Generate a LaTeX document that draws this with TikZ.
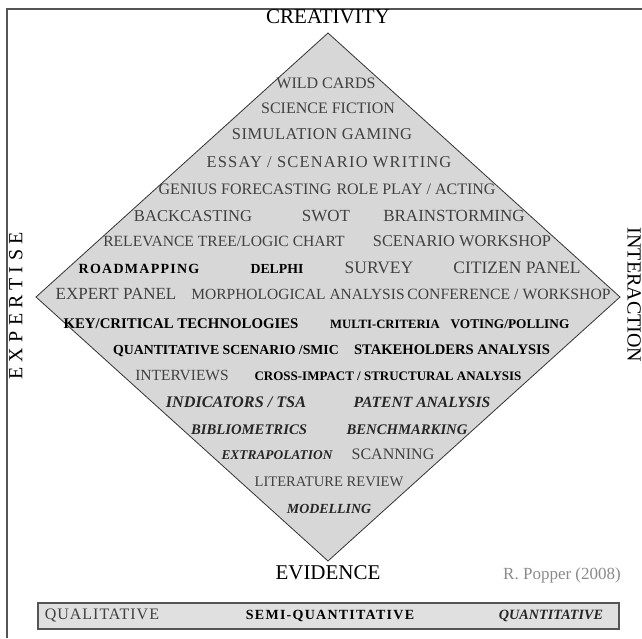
\documentclass[tikz,border=0pt]{standalone}
\usepackage{fontspec}
\setmainfont{Liberation Serif}
\definecolor{fillgray}{HTML}{D7D7D7}
\definecolor{barfill}{HTML}{E0E0E0}
\definecolor{softgray}{HTML}{404040}
\definecolor{linegray}{HTML}{555555}
\definecolor{citegray}{HTML}{8A8A8A}
\begin{document}
\begin{tikzpicture}[x=1pt,y=-1pt,
    every node/.style={inner sep=0pt,text height=0.66em,text depth=0pt},
    soft/.style={text=softgray,font=\fontsize{16}{18}\selectfont},
    roomy/.style={text=softgray,font=\fontsize{16.5}{18}\selectfont\addfontfeature{LetterSpace=7}},
    strong/.style={text=black,font=\fontsize{13.8}{16}\selectfont\bfseries},
    tracked/.style={text=black,font=\fontsize{14}{16}\selectfont\bfseries\addfontfeature{LetterSpace=9}},
    slant/.style={text=black!85,font=\fontsize{14.7}{16}\selectfont\bfseries\itshape},
    pole/.style={text=black,font=\fontsize{21}{22}\selectfont}]
    \useasboundingbox (0,0) rectangle (642,638);
    % frame
    \draw[linegray,line width=2pt] (7,638) -- (7,9) -- (642,9);
    % diamond
    \coordinate (top) at (328,33);
    \coordinate (right) at (620,297);
    \coordinate (bottom) at (328,561);
    \coordinate (left) at (36,297);
    \filldraw[fill=fillgray,draw=black!80,line width=0.8pt] (top) -- (right) -- (bottom) -- (left) -- cycle;
    % poles
    \node[pole] (creativity) at (328,20) {CREATIVITY};
    \node[pole] (evidence) at (328,576) {EVIDENCE};
    \node[pole,rotate=90,font=\fontsize{20}{22}\selectfont\addfontfeature{LetterSpace=27}] (expertise) at (19,306) {EXPERTISE};
    \node[pole,rotate=-90,font=\fontsize{20}{22}\selectfont] (interaction) at (631,295) {INTERACTION};
    \node[soft,text=citegray,font=\fontsize{17}{18}\selectfont] (popper) at (562,576) {R. Popper (2008)};
    % methods, top to bottom
    \node[soft] (wild) at (326,85) {WILD CARDS};
    \node[soft] (fiction) at (328,110) {SCIENCE FICTION};
    \node[roomy,font=\fontsize{16.5}{18}\selectfont\addfontfeature{LetterSpace=3}] (gaming) at (322,136) {SIMULATION GAMING};
    \node[roomy] (essay) at (329,164) {ESSAY / SCENARIO WRITING};
    \node[soft] (genius) at (245,191) {GENIUS FORECASTING};
    \node[soft] (roleplay) at (416,191) {ROLE PLAY / ACTING};
    \node[soft,font=\fontsize{16.6}{18}\selectfont] (backcast) at (193,218) {BACKCASTING};
    \node[soft,font=\fontsize{17}{18}\selectfont] (swot) at (326,218) {SWOT};
    \node[soft,font=\fontsize{17}{18}\selectfont] (brainstorm) at (454,218) {BRAINSTORMING};
    \node[soft,font=\fontsize{15.6}{18}\selectfont] (relevance) at (224,243) {RELEVANCE TREE/LOGIC CHART};
    \node[soft,font=\fontsize{16.4}{18}\selectfont] (workshop) at (462,243) {SCENARIO WORKSHOP};
    \node[tracked] (roadmap) at (139,270) {ROADMAPPING};
    \node[strong] (delphi) at (277,270) {DELPHI};
    \node[soft,font=\fontsize{17.5}{18}\selectfont] (survey) at (379,270) {SURVEY};
    \node[soft,font=\fontsize{17.5}{18}\selectfont] (citizen) at (517,270) {CITIZEN PANEL};
    \node[soft,font=\fontsize{17}{18}\selectfont] (expert) at (116,296) {EXPERT PANEL};
    \node[soft,font=\fontsize{15.5}{18}\selectfont] (morpho) at (298,296) {MORPHOLOGICAL ANALYSIS};
    \node[soft,font=\fontsize{15.7}{18}\selectfont] (conference) at (509,296) {CONFERENCE / WORKSHOP};
    \node[strong,font=\fontsize{14.8}{16}\selectfont\bfseries] (keytech) at (181,325) {KEY/CRITICAL TECHNOLOGIES};
    \node[strong,font=\fontsize{12.7}{16}\selectfont\bfseries] (multi) at (385,325) {MULTI-CRITERIA};
    \node[strong,font=\fontsize{13.3}{16}\selectfont\bfseries] (voting) at (510,325) {VOTING/POLLING};
    \node[strong] (smic) at (226,351) {QUANTITATIVE SCENARIO /SMIC};
    \node[strong,font=\fontsize{14.6}{16}\selectfont\bfseries] (stake) at (452,351) {STAKEHOLDERS ANALYSIS};
    \node[soft,font=\fontsize{15.5}{18}\selectfont] (interview) at (182,377) {INTERVIEWS};
    \node[strong,font=\fontsize{13}{16}\selectfont\bfseries] (crossimpact) at (388,377) {CROSS-IMPACT / STRUCTURAL ANALYSIS};
    \node[slant,font=\fontsize{16.2}{16}\selectfont\bfseries\itshape] (indicators) at (236,404) {INDICATORS / TSA};
    \node[slant,font=\fontsize{15.6}{16}\selectfont\bfseries\itshape] (patent) at (422,404) {PATENT ANALYSIS};
    \node[slant] (biblio) at (249,431) {BIBLIOMETRICS};
    \node[slant] (benchmark) at (407,431) {BENCHMARKING};
    \node[slant,font=\fontsize{13.4}{16}\selectfont\bfseries\itshape] (extrapol) at (277,456) {EXTRAPOLATION};
    \node[soft] (scanning) at (393,456) {SCANNING};
    \node[soft,font=\fontsize{14.6}{18}\selectfont] (literature) at (329,483) {LITERATURE REVIEW};
    \node[slant,font=\fontsize{13.9}{16}\selectfont\bfseries\itshape] (modelling) at (329,510) {MODELLING};
    % scale bar
    \draw[fill=barfill,draw=linegray,line width=1.5pt] (38,603) rectangle (619,629);
    \node[roomy,font=\fontsize{16}{18}\selectfont\addfontfeature{LetterSpace=6}] (qual) at (102,616) {QUALITATIVE};
    \node[tracked] (semi) at (330,616) {SEMI-QUANTITATIVE};
    \node[slant,font=\fontsize{14.2}{16}\selectfont\bfseries\itshape] (quant) at (551,616) {QUANTITATIVE};
\end{tikzpicture}
\end{document}
